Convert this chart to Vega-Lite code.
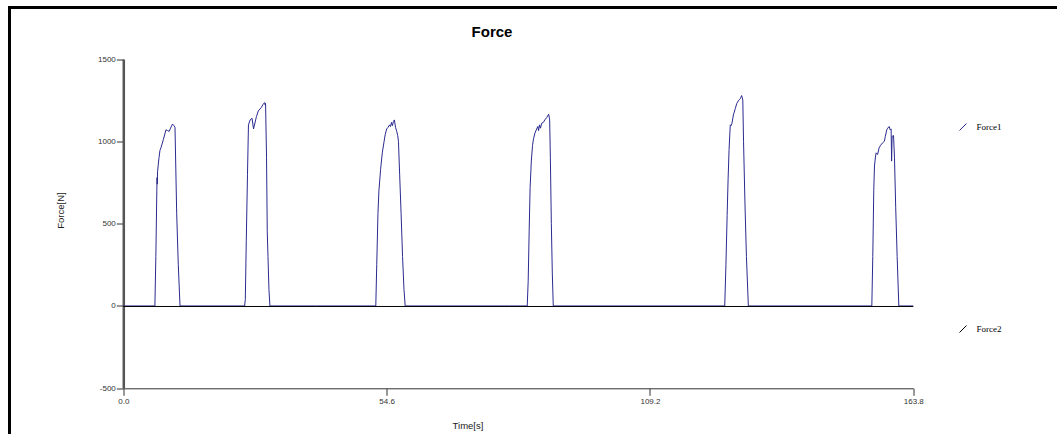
{
  "$schema": "https://vega.github.io/schema/vega-lite/v6.json",
  "autosize": "none",
  "padding": {"left": 9.5, "top": 7.5, "right": -4, "bottom": -6},
  "width": 1051.5,
  "height": 432.5,
  "background": "white",
  "title": {
    "text": "Force",
    "orient": "top",
    "anchor": "start",
    "frame": "group",
    "align": "center",
    "baseline": "alphabetic",
    "dx": 482.5,
    "dy": 44.5,
    "offset": 0,
    "font": "Liberation Sans",
    "fontSize": 15,
    "fontWeight": "bold",
    "color": "#000000"
  },
  "config": {
    "view": {"stroke": "#000000", "strokeWidth": 3},
    "axis": {
      "grid": false,
      "labelFont": "Liberation Sans",
      "labelFontSize": 8,
      "labelColor": "#333333",
      "titleFont": "Liberation Sans",
      "titleFontSize": 9.5,
      "titleFontWeight": "normal",
      "titleColor": "#222222",
      "tickColor": "#333333",
      "tickSize": 7,
      "tickWidth": 1
    }
  },
  "data": {
    "values": [
      {"series": "Force1", "t": 0, "force": 0},
      {"series": "Force1", "t": 6.55, "force": 0},
      {"series": "Force1", "t": 6.75, "force": 300},
      {"series": "Force1", "t": 6.95, "force": 700},
      {"series": "Force1", "t": 7.0, "force": 780},
      {"series": "Force1", "t": 7.05, "force": 740},
      {"series": "Force1", "t": 7.1, "force": 815},
      {"series": "Force1", "t": 7.4, "force": 900},
      {"series": "Force1", "t": 7.6, "force": 945},
      {"series": "Force1", "t": 7.8, "force": 960},
      {"series": "Force1", "t": 8.3, "force": 1010},
      {"series": "Force1", "t": 8.85, "force": 1070},
      {"series": "Force1", "t": 9.2, "force": 1065},
      {"series": "Force1", "t": 9.5, "force": 1060},
      {"series": "Force1", "t": 9.8, "force": 1080},
      {"series": "Force1", "t": 10.2, "force": 1105},
      {"series": "Force1", "t": 10.5, "force": 1095},
      {"series": "Force1", "t": 10.72, "force": 1085},
      {"series": "Force1", "t": 11.07, "force": 560},
      {"series": "Force1", "t": 11.4, "force": 250},
      {"series": "Force1", "t": 11.76, "force": 0},
      {"series": "Force1", "t": 25.15, "force": 0},
      {"series": "Force1", "t": 25.3, "force": 40},
      {"series": "Force1", "t": 25.5, "force": 400},
      {"series": "Force1", "t": 25.75, "force": 800},
      {"series": "Force1", "t": 25.95, "force": 1100},
      {"series": "Force1", "t": 26.3, "force": 1130},
      {"series": "Force1", "t": 26.7, "force": 1140},
      {"series": "Force1", "t": 27.0, "force": 1075},
      {"series": "Force1", "t": 27.6, "force": 1150},
      {"series": "Force1", "t": 28.0, "force": 1185},
      {"series": "Force1", "t": 28.6, "force": 1205},
      {"series": "Force1", "t": 29.0, "force": 1225},
      {"series": "Force1", "t": 29.3, "force": 1235},
      {"series": "Force1", "t": 29.4, "force": 1222},
      {"series": "Force1", "t": 29.5, "force": 1230},
      {"series": "Force1", "t": 29.7, "force": 900},
      {"series": "Force1", "t": 29.85, "force": 450},
      {"series": "Force1", "t": 30.0, "force": 300},
      {"series": "Force1", "t": 30.2, "force": 100},
      {"series": "Force1", "t": 30.4, "force": 0},
      {"series": "Force1", "t": 52.35, "force": 0},
      {"series": "Force1", "t": 52.55, "force": 250},
      {"series": "Force1", "t": 52.8, "force": 560},
      {"series": "Force1", "t": 53.0, "force": 700},
      {"series": "Force1", "t": 53.35, "force": 830},
      {"series": "Force1", "t": 53.7, "force": 930},
      {"series": "Force1", "t": 54.05, "force": 995},
      {"series": "Force1", "t": 54.3, "force": 1040},
      {"series": "Force1", "t": 54.6, "force": 1075},
      {"series": "Force1", "t": 54.9, "force": 1085},
      {"series": "Force1", "t": 55.2, "force": 1100},
      {"series": "Force1", "t": 55.4, "force": 1090},
      {"series": "Force1", "t": 55.6, "force": 1115},
      {"series": "Force1", "t": 55.8, "force": 1095},
      {"series": "Force1", "t": 56.0, "force": 1120},
      {"series": "Force1", "t": 56.2, "force": 1130},
      {"series": "Force1", "t": 56.45, "force": 1085},
      {"series": "Force1", "t": 56.7, "force": 1060},
      {"series": "Force1", "t": 56.9, "force": 1035},
      {"series": "Force1", "t": 57.05, "force": 1000},
      {"series": "Force1", "t": 57.3, "force": 800},
      {"series": "Force1", "t": 57.6, "force": 560},
      {"series": "Force1", "t": 57.9, "force": 300},
      {"series": "Force1", "t": 58.2, "force": 100},
      {"series": "Force1", "t": 58.45, "force": 0},
      {"series": "Force1", "t": 83.75, "force": 0},
      {"series": "Force1", "t": 83.95, "force": 150},
      {"series": "Force1", "t": 84.15, "force": 450},
      {"series": "Force1", "t": 84.35, "force": 720},
      {"series": "Force1", "t": 84.6, "force": 880},
      {"series": "Force1", "t": 84.85, "force": 975},
      {"series": "Force1", "t": 85.05, "force": 1015},
      {"series": "Force1", "t": 85.35, "force": 1050},
      {"series": "Force1", "t": 85.7, "force": 1075},
      {"series": "Force1", "t": 85.95, "force": 1090},
      {"series": "Force1", "t": 86.1, "force": 1065},
      {"series": "Force1", "t": 86.3, "force": 1100},
      {"series": "Force1", "t": 86.5, "force": 1080},
      {"series": "Force1", "t": 86.75, "force": 1110},
      {"series": "Force1", "t": 87.1, "force": 1115},
      {"series": "Force1", "t": 87.4, "force": 1130},
      {"series": "Force1", "t": 87.8, "force": 1145},
      {"series": "Force1", "t": 88.2, "force": 1165},
      {"series": "Force1", "t": 88.4, "force": 1130},
      {"series": "Force1", "t": 88.55, "force": 900},
      {"series": "Force1", "t": 88.75, "force": 500},
      {"series": "Force1", "t": 88.95, "force": 200},
      {"series": "Force1", "t": 89.15, "force": 0},
      {"series": "Force1", "t": 124.7, "force": 0},
      {"series": "Force1", "t": 124.95, "force": 250},
      {"series": "Force1", "t": 125.2, "force": 550},
      {"series": "Force1", "t": 125.4, "force": 770},
      {"series": "Force1", "t": 125.6, "force": 950},
      {"series": "Force1", "t": 125.85, "force": 1100},
      {"series": "Force1", "t": 126.0, "force": 1095},
      {"series": "Force1", "t": 126.2, "force": 1110},
      {"series": "Force1", "t": 126.5, "force": 1160},
      {"series": "Force1", "t": 126.9, "force": 1200},
      {"series": "Force1", "t": 127.2, "force": 1230},
      {"series": "Force1", "t": 127.5, "force": 1245},
      {"series": "Force1", "t": 127.8, "force": 1255},
      {"series": "Force1", "t": 128.0, "force": 1262},
      {"series": "Force1", "t": 128.2, "force": 1278},
      {"series": "Force1", "t": 128.35, "force": 1265},
      {"series": "Force1", "t": 128.45, "force": 1250},
      {"series": "Force1", "t": 128.6, "force": 1000},
      {"series": "Force1", "t": 128.9, "force": 620},
      {"series": "Force1", "t": 129.2, "force": 300},
      {"series": "Force1", "t": 129.6, "force": 0},
      {"series": "Force1", "t": 155.2, "force": 0},
      {"series": "Force1", "t": 155.4, "force": 300},
      {"series": "Force1", "t": 155.6, "force": 700},
      {"series": "Force1", "t": 155.75, "force": 850},
      {"series": "Force1", "t": 155.95, "force": 905},
      {"series": "Force1", "t": 156.1, "force": 930},
      {"series": "Force1", "t": 156.4, "force": 920},
      {"series": "Force1", "t": 156.7, "force": 960},
      {"series": "Force1", "t": 157.0, "force": 975},
      {"series": "Force1", "t": 157.4, "force": 990},
      {"series": "Force1", "t": 157.8, "force": 1000},
      {"series": "Force1", "t": 158.0, "force": 1030},
      {"series": "Force1", "t": 158.3, "force": 1070},
      {"series": "Force1", "t": 158.5, "force": 1080},
      {"series": "Force1", "t": 158.8, "force": 1090},
      {"series": "Force1", "t": 159.0, "force": 1070},
      {"series": "Force1", "t": 159.2, "force": 1075},
      {"series": "Force1", "t": 159.3, "force": 880},
      {"series": "Force1", "t": 159.4, "force": 1030},
      {"series": "Force1", "t": 159.7, "force": 1035},
      {"series": "Force1", "t": 159.9, "force": 900},
      {"series": "Force1", "t": 160.15, "force": 600},
      {"series": "Force1", "t": 160.45, "force": 300},
      {"series": "Force1", "t": 160.8, "force": 0},
      {"series": "Force1", "t": 163.8, "force": 0},
      {"series": "Force2", "t": 0, "force": -3},
      {"series": "Force2", "t": 40, "force": -3},
      {"series": "Force2", "t": 80, "force": -3},
      {"series": "Force2", "t": 120, "force": -3},
      {"series": "Force2", "t": 163.8, "force": -3}
    ]
  },
  "mark": {"type": "line", "strokeWidth": 1, "interpolate": "linear"},
  "encoding": {
    "x": {
      "field": "t",
      "type": "quantitative",
      "title": "Time[s]",
      "scale": {"domain": [0, 163.8], "range": [113.8, 903.8], "nice": false, "zero": false},
      "axis": {
        "offset": -51.7,
        "values": [0, 54.6, 109.2, 163.8],
        "format": ".1f",
        "domainColor": "#333333",
        "domainWidth": 1,
        "labelPadding": 2,
        "labelFlush": false,
        "titleX": 458,
        "titleY": 32
      }
    },
    "y": {
      "field": "force",
      "type": "quantitative",
      "title": "Force[N]",
      "scale": {"domain": [-500, 1500], "range": [380.8, 51.5], "nice": false, "zero": false},
      "axis": {
        "offset": -113.8,
        "values": [-500, 0, 500, 1000, 1500],
        "labelExpr": "datum.value + ''",
        "domainColor": "#555555",
        "domainWidth": 2.5,
        "labelPadding": 1,
        "labelFlush": false,
        "titleX": -58,
        "titleY": 202.5
      }
    },
    "color": {
      "field": "series",
      "type": "nominal",
      "scale": {"domain": ["Force1", "Force2"], "range": ["#2a2a90", "#000000"]},
      "legend": {
        "title": null,
        "orient": "none",
        "legendX": 949,
        "legendY": 115,
        "direction": "vertical",
        "rowPadding": 191,
        "padding": 0,
        "symbolType": "M-1,1L1,-1",
        "symbolSize": 49,
        "symbolStrokeWidth": 1,
        "labelOffset": 9,
        "labelFont": "Liberation Serif",
        "labelFontSize": 9,
        "labelColor": "#000000",
        "encode": {
          "symbols": {
            "update": {
              "stroke": {"scale": "color", "field": "value"},
              "fill": {"value": "transparent"}
            }
          }
        }
      }
    },
    "order": {"field": "t", "type": "quantitative"}
  }
}
